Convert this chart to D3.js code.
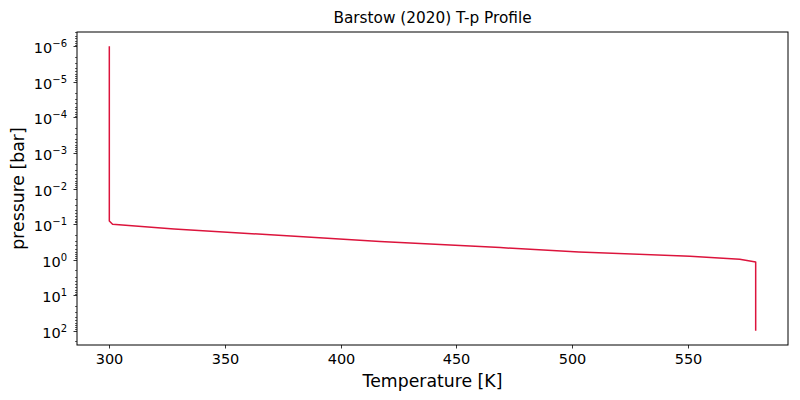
<!DOCTYPE html>
<html>
<head>
<meta charset="utf-8">
<script src="https://cdn.jsdelivr.net/npm/d3@7"></script>
<style>
  body { margin: 0; background: #fff; }
  svg { font-family: "DejaVu Sans", sans-serif; }
</style>
</head>
<body>
<svg id="chart" width="800" height="400"></svg>
<script>
// T-p profile: temperature [K] and pressure [bar]
const temperature = [300, 300, 301.4, 328, 382, 417, 469, 503, 551, 572.5, 579.4, 579.4];
const pressure    = [1e-6, 0.082, 0.101, 0.137, 0.225, 0.311, 0.459, 0.606, 0.80, 0.97, 1.16, 100];

const xTicks = [300, 350, 400, 450, 500, 550];
const yExponents = [-6, -5, -4, -3, -2, -1, 0, 1, 2];

const
width = 800,
height = 400,
margin = {top: 32, right: 12, bottom: 55, left: 77},
plotW = width - margin.left - margin.right,
plotH = height - margin.top - margin.bottom,
lineColor = '#dc143c',
tickFont = 14.5;

const svg = d3.select('#chart');
const g = svg.append('g').attr('transform', `translate(${margin.left},${margin.top})`);

// matplotlib style 5% margins; log axis padded in decades
const xMin = d3.min(temperature), xMax = d3.max(temperature),
  xPad = (xMax - xMin) * 0.05;
const x = d3.scaleLinear().domain([xMin - xPad, xMax + xPad]).range([0, plotW]);

const lMin = Math.log10(d3.min(pressure)), lMax = Math.log10(d3.max(pressure)),
  lPad = (lMax - lMin) * 0.05;
// inverted: low pressure at top
const y = d3.scaleLog()
  .domain([Math.pow(10, lMin - lPad), Math.pow(10, lMax + lPad)])
  .range([0, plotH]);

// frame
g.append('rect')
  .attr('width', plotW).attr('height', plotH)
  .attr('fill', 'none').attr('stroke', '#000').attr('stroke-width', 1);

// x axis
const xAxis = g.append('g').attr('transform', `translate(0,${plotH})`);
xTicks.forEach(t => {
  const px = Math.round(x(t)) + 0.5;
  xAxis.append('line').attr('x1', px).attr('x2', px).attr('y1', 0).attr('y2', 3.5)
    .attr('stroke', '#000').attr('stroke-width', 0.8);
  xAxis.append('text').attr('x', px).attr('y', 18.5)
    .attr('text-anchor', 'middle').attr('font-size', tickFont).text(t);
});

// y axis, major and minor ticks
const yAxis = g.append('g');
yExponents.forEach(e => {
  const py = Math.round(y(Math.pow(10, e))) + 0.5;
  yAxis.append('line').attr('x1', 0).attr('x2', -3.5).attr('y1', py).attr('y2', py)
    .attr('stroke', '#000').attr('stroke-width', 0.8);
  const txt = yAxis.append('text').attr('x', -10).attr('y', py + 6.5)
    .attr('text-anchor', 'end').attr('font-size', tickFont);
  txt.append('tspan').text('10');
  txt.append('tspan').attr('dy', -6.5).attr('font-size', 10)
    .text(e < 0 ? '\u2212' + (-e) : String(e));
});
const yDom = y.domain();
for (let e = -7; e <= 3; e++) {
  for (let m = 2; m <= 9; m++) {
    const v = m * Math.pow(10, e);
    if (v < yDom[0] || v > yDom[1]) continue;
    const py = Math.round(y(v)) + 0.5;
    yAxis.append('line').attr('x1', 0).attr('x2', -2).attr('y1', py).attr('y2', py)
      .attr('stroke', '#000').attr('stroke-width', 0.6);
  }
}

// profile
const line = d3.line().x(d => x(d[0])).y(d => y(d[1]));
g.append('path')
  .datum(d3.zip(temperature, pressure))
  .attr('d', line)
  .attr('fill', 'none')
  .attr('stroke', lineColor)
  .attr('stroke-width', 1.5)
  .attr('stroke-linejoin', 'round');

// labels
svg.append('text')
  .attr('x', margin.left + plotW / 2).attr('y', 23)
  .attr('text-anchor', 'middle').attr('font-size', 15.3)
  .text('Barstow (2020) T-p Profile');

svg.append('text')
  .attr('x', margin.left + plotW / 2).attr('y', 387)
  .attr('text-anchor', 'middle').attr('font-size', 17.3)
  .text('Temperature [K]');

svg.append('text')
  .attr('transform', `translate(24,${margin.top + plotH / 2}) rotate(-90)`)
  .attr('text-anchor', 'middle').attr('font-size', 17.3)
  .text('pressure [bar]');
</script>
</body>
</html>
